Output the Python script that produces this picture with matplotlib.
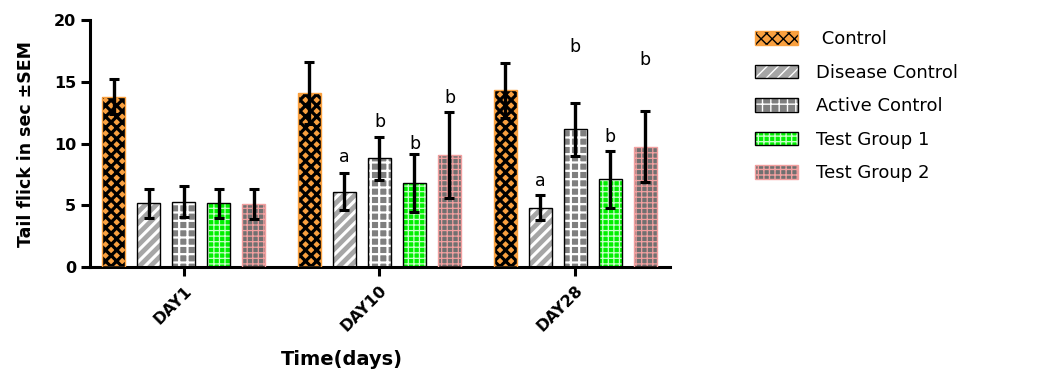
import matplotlib.pyplot as plt
import numpy as np
from matplotlib.patches import Patch
from matplotlib.legend_handler import HandlerTuple

plt.rcParams['font.family'] = ['DejaVu Sans']

# data
days = ['DAY1', 'DAY10', 'DAY28']
groups = [' Control', 'Disease Control', 'Active Control', 'Test Group 1', 'Test Group 2']
means = [
    [13.8, 14.1, 14.3],   # Control
    [5.15, 6.1, 4.8],     # Disease Control
    [5.3, 8.8, 11.15],    # Active Control
    [5.15, 6.8, 7.1],     # Test Group 1
    [5.1, 9.05, 9.75],    # Test Group 2
]
sems = [
    [1.45, 2.5, 2.2],
    [1.2, 1.5, 1.0],
    [1.25, 1.75, 2.15],
    [1.15, 2.35, 2.3],
    [1.2, 3.5, 2.9],
]
# significance letters: (group, day, letter, height)
sig_letters = [
    (1, 1, 'a', 8.9), (2, 1, 'b', 11.75), (3, 1, 'b', 9.95), (4, 1, 'b', 13.7),
    (1, 2, 'a', 6.95), (2, 2, 'b', 17.8), (3, 2, 'b', 10.5), (4, 2, 'b', 16.75),
]

# face colour, hatch colour, hatch, outline colour, hatch linewidth
styles = [
    ('#f9a03f', 'black', 'xxx', '#f9a03f', 2.3),
    ('#a6a6a6', 'white', '///', 'black', 2.2),
    ('#7f7f7f', 'white', '++', 'black', 1.6),
    ('#00f000', '#c8ffc8', '+++', 'black', 0.9),
    ('#707070', '#f2a0a0', '+++', '#f2a0a0', 0.9),
]


def hatched(patch, hlw):
    if hasattr(patch, 'set_hatch_linewidth'):
        patch.set_hatch_linewidth(hlw)
    return patch


fig = plt.figure(figsize=(10.43, 3.69), dpi=100)
ax = fig.add_axes([0.0863, 0.2764, 0.556, 0.6694])

x = np.arange(len(days))
step = 0.179
width = 0.118

handles = []
for i, name in enumerate(groups):
    face, hcol, hatch, edge, hlw = styles[i]
    xs = x + (i - 2) * step
    with plt.rc_context({'hatch.linewidth': hlw}):
        bars = ax.bar(xs, means[i], width, color=face, edgecolor=hcol, hatch=hatch,
                      linewidth=0, zorder=2)
        for b in bars:
            hatched(b, hlw)
        p1 = hatched(Patch(facecolor=face, edgecolor=hcol, hatch=hatch, linewidth=0), hlw)
    ax.bar(xs, means[i], width, fill=False, edgecolor=edge, linewidth=1.0, zorder=3)
    ax.errorbar(xs, means[i], yerr=sems[i], fmt='none', ecolor='black',
                elinewidth=2.4, capsize=3.5, capthick=2.2, zorder=4)
    p2 = Patch(fill=False, edgecolor=edge, linewidth=1.0)
    handles.append((p1, p2))

for g, d, letter, h in sig_letters:
    ax.text(x[d] + (g - 2) * step, h, letter, ha='center', va='center', fontsize=12.5)

ax.set_xlim(-0.48, 2.485)
ax.set_ylim(0, 20)
ax.set_yticks([0, 5, 10, 15, 20])
ax.set_xticks(x)
ax.set_xticklabels(days, rotation=45, ha='right', rotation_mode='anchor',
                   fontweight='bold', fontsize=11.5)
for lab in ax.get_yticklabels():
    lab.set_fontweight('bold')
    lab.set_fontsize(11.5)
for s in ['top', 'right']:
    ax.spines[s].set_visible(False)
for s in ['left', 'bottom']:
    ax.spines[s].set_linewidth(2.2)
ax.tick_params(axis='both', width=2.2, length=6.5, direction='out')
ax.tick_params(axis='x', pad=5)

ax.set_ylabel('Tail flick in sec ±SEM', fontweight='bold', fontsize=12.5)
ax.yaxis.set_label_coords(-0.095, 0.5)
ax.set_xlabel('Time(days)', fontweight='bold', fontsize=14)
ax.xaxis.set_label_coords(0.434, -0.335)

fig.legend(handles, groups, loc='upper left', bbox_to_anchor=(0.708, 0.962),
           frameon=False, fontsize=13, handlelength=2.4, handleheight=0.75,
           handletextpad=1.0, labelspacing=0.86,
           handler_map={tuple: HandlerTuple(ndivide=1)})

fig.savefig('out.png', dpi=100)
